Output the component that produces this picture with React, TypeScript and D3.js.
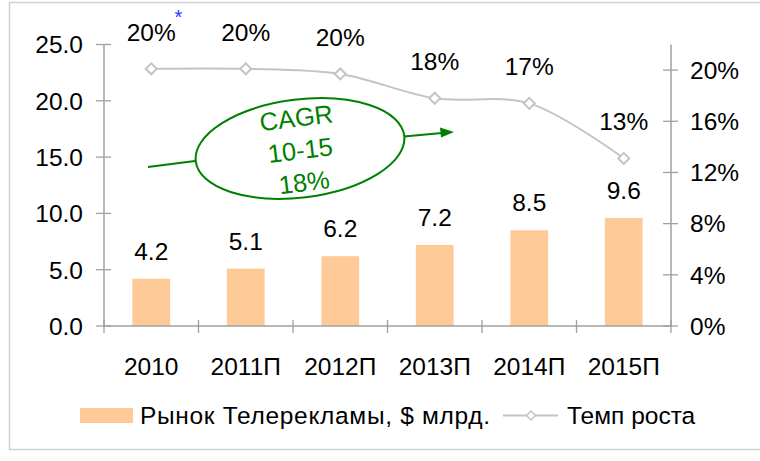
import React from "react";
import * as d3 from "d3";

const categories = ["2010", "2011П", "2012П", "2013П", "2014П", "2015П"];
const marketValues = [4.2, 5.1, 6.2, 7.2, 8.5, 9.6];
const marketLabels = ["4.2", "5.1", "6.2", "7.2", "8.5", "9.6"];
const growthValues = [0.201, 0.201, 0.197, 0.178, 0.174, 0.131];
const growthLabels = ["20%", "20%", "20%", "18%", "17%", "13%"];
const leftTicks = [0, 5, 10, 15, 20, 25];
const rightTicks = [0, 0.04, 0.08, 0.12, 0.16, 0.2];
const legendBar = "Рынок Телерекламы, $ млрд.";
const legendLine = "Темп роста";
const cagrLines = ["CAGR", "10-15", "18%"];

const FONT = "'Liberation Sans', Arial, sans-serif";
const AXIS = "#a0a0a0";
const BAR = "#FDCA98";
const LINE = "#c4c4c4";
const GREEN = "#008000";
const FS = 24.5;

export default function App() {
  const left = 104, right = 671, bottom = 326, top = 44.5;
  const x = d3.scaleBand<string>().domain(categories).range([left, right]).paddingInner(0.6).paddingOuter(0.3);
  const step = x.step();
  const xc = (c: string) => (x(c) as number) + x.bandwidth() / 2;
  const yL = d3.scaleLinear().domain([0, 25]).range([bottom, top]);
  const yR = d3.scaleLinear().domain([0, 0.22]).range([bottom, top]);
  const lineGen = d3.line<number>()
    .x((_, i) => xc(categories[i]))
    .y((d) => yR(d))
    .curve(d3.curveCatmullRom.alpha(0.5));
  const boundaries = d3.range(categories.length + 1).map((i) => left + i * step);
  const diamond = (cx: number, cy: number, r: number) =>
    `M${cx},${cy - r}L${cx + r},${cy}L${cx},${cy + r}L${cx - r},${cy}Z`;

  return (
    <svg width={760} height={461} style={{ position: "absolute", left: 0, top: 0, background: "#fff" }} fontFamily={FONT}>
      <rect x={0} y={0} width={760} height={461} fill="#fff" />
      <path d="M770,2.5H9.5V449.5H770" fill="none" stroke="#d0d0d0" strokeWidth={1.5} />

      {/* bars */}
      {categories.map((c, i) => (
        <rect key={c} x={x(c)} y={yL(marketValues[i])} width={x.bandwidth()} height={bottom - yL(marketValues[i])} fill={BAR} />
      ))}
      {categories.map((c, i) => (
        <text key={"bl" + c} x={xc(c)} y={yL(marketValues[i]) - 19} textAnchor="middle" fontSize={FS} fill="#000">
          {marketLabels[i]}
        </text>
      ))}

      {/* left axis */}
      <line x1={left} x2={left} y1={top} y2={bottom} stroke={AXIS} strokeWidth={1.5} />
      {leftTicks.map((t) => (
        <g key={"lt" + t}>
          <line x1={left - 8} x2={left + 7} y1={yL(t)} y2={yL(t)} stroke={AXIS} strokeWidth={1.3} />
          <text x={83} y={yL(t) + 8.8} textAnchor="end" fontSize={FS} fill="#000">{d3.format(".1f")(t)}</text>
        </g>
      ))}

      {/* right axis */}
      <line x1={right} x2={right} y1={top} y2={bottom} stroke={AXIS} strokeWidth={1.5} />
      {rightTicks.map((t) => (
        <g key={"rt" + t}>
          <line x1={right - 8} x2={right + 7} y1={yR(t)} y2={yR(t)} stroke={AXIS} strokeWidth={1.3} />
          <text x={690} y={yR(t) + 8.8} textAnchor="start" fontSize={FS} fill="#000">{d3.format(".0%")(t)}</text>
        </g>
      ))}

      {/* category axis */}
      <line x1={left} x2={right} y1={bottom} y2={bottom} stroke={AXIS} strokeWidth={1.5} />
      {boundaries.map((b, i) => (
        <line key={"ct" + i} x1={b} x2={b} y1={bottom - 6} y2={bottom + 7} stroke={AXIS} strokeWidth={1.3} />
      ))}
      {categories.map((c) => (
        <text key={"cl" + c} x={xc(c)} y={375} textAnchor="middle" fontSize={FS} fill="#000">{c}</text>
      ))}

      {/* growth line */}
      <path d={lineGen(growthValues) || ""} fill="none" stroke={LINE} strokeWidth={2} />
      {categories.map((c, i) => (
        <path key={"m" + c} d={diamond(xc(c), yR(growthValues[i]), 5.5)} fill="#fff" stroke={LINE} strokeWidth={2} />
      ))}
      {categories.map((c, i) => (
        <text key={"gl" + c} x={xc(c)} y={yR(growthValues[i]) - 28} textAnchor="middle" fontSize={FS} fill="#000">
          {growthLabels[i]}
        </text>
      ))}
      <text x={178.5} y={24} textAnchor="middle" fontSize={20} fill="#3333ff">*</text>

      {/* CAGR annotation */}
      <line x1={148} y1={167} x2={195} y2={161} stroke={GREEN} strokeWidth={2} />
      <line x1={404} y1={136.5} x2={442} y2={133} stroke={GREEN} strokeWidth={2} />
      <path d="M454,132L440,127.5L441,137.5Z" fill={GREEN} />
      <g transform="translate(300,148.5) rotate(-7)">
        <ellipse cx={0} cy={0} rx={105} ry={49} fill="none" stroke={GREEN} strokeWidth={2} />
        {cagrLines.map((t, i) => (
          <text key={t} x={0} y={-31 + i * 32.5 + 9} textAnchor="middle" fontSize={25.5} fill={GREEN}>{t}</text>
        ))}
      </g>

      {/* legend */}
      <rect x={80} y={408} width={53} height={15} fill={BAR} />
      <text x={140} y={424} fontSize={FS} textLength={350} lengthAdjust="spacing" fill="#000">{legendBar}</text>
      <line x1={503} x2={558} y1={415.5} y2={415.5} stroke={LINE} strokeWidth={2} />
      <path d={diamond(531, 415.5, 4.5)} fill="#fff" stroke={LINE} strokeWidth={1.5} />
      <text x={567} y={424} fontSize={FS} fill="#000">{legendLine}</text>
    </svg>
  );
}
